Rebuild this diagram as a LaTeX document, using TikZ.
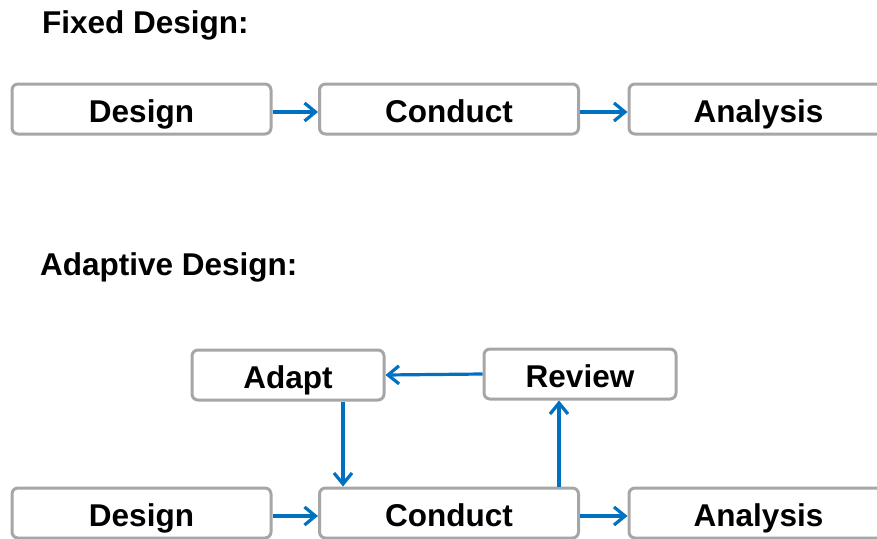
\documentclass[tikz,border=0pt]{standalone}
\usepackage{fontspec}
\setmainfont{Liberation Sans}
\usetikzlibrary{arrows.meta}
\definecolor{boxgray}{HTML}{A6A6A6}
\definecolor{arrblue}{HTML}{0070C0}
\tikzset{
  stagebox/.style={draw=boxgray, line width=3pt, rounded corners=6pt, fill=white,
    minimum width=259pt, minimum height=50pt, inner sep=0pt,
    text height=27pt, text depth=0pt,
    font=\fontsize{31.5}{35}\selectfont\bfseries},
  smallbox/.style={stagebox, minimum width=192pt},
  titletext/.style={anchor=west, inner sep=0pt, font=\fontsize{31.5}{35}\selectfont\bfseries},
  flow/.style={draw=arrblue, line width=3.2pt, -{Straight Barb[length=11pt,width=18pt,line width=3.2pt]}}
}
\begin{document}
\begin{tikzpicture}[x=1pt,y=-1pt]
\useasboundingbox (0,0) rectangle (877,538);
\clip (0,0) rectangle (877,538);
% titles
\node[titletext] (t1) at (42,25) {Fixed Design:};
\node[titletext] (t2) at (40,267) {Adaptive Design:};
% fixed design row
\node[stagebox] (d1) at (141.5,109) {Design};
\node[stagebox] (c1) at (449,109) {Conduct};
\node[stagebox] (a1) at (758.5,109) {Analysis};
\draw[flow] ([yshift=-3pt]d1.east) -- ([yshift=-3pt]c1.west);
\draw[flow] ([yshift=-3pt]c1.east) -- ([yshift=-3pt]a1.west);
% adaptive design
\node[smallbox] (ad) at (288,375) {Adapt};
\node[smallbox] (rv) at (580,374) {Review};
\node[stagebox] (d2) at (141.5,513) {Design};
\node[stagebox] (c2) at (449,513) {Conduct};
\node[stagebox] (a2) at (758.5,513) {Analysis};
\draw[flow] ([yshift=-3pt]d2.east) -- ([yshift=-3pt]c2.west);
\draw[flow] ([yshift=-3pt]c2.east) -- ([yshift=-3pt]a2.west);
\draw[flow] (rv.west) -- (ad.east);
\draw[flow] (ad.south -| 343,0) -- (c2.north -| 343,0);
\draw[flow] (c2.north -| 559,0) -- (rv.south -| 559,0);
\end{tikzpicture}
\end{document}
